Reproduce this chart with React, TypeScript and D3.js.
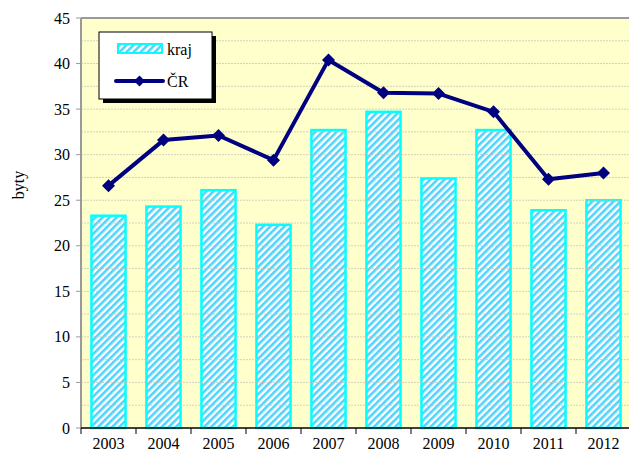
import React from "react";
import * as d3 from "d3";

const years = ["2003", "2004", "2005", "2006", "2007", "2008", "2009", "2010", "2011", "2012"];
const krajValues = [23.3, 24.3, 26.1, 22.3, 32.7, 34.7, 27.4, 32.7, 23.9, 25.0];
const crValues = [26.6, 31.6, 32.1, 29.4, 40.4, 36.8, 36.7, 34.7, 27.3, 28.0];
const yTicks = [0, 5, 10, 15, 20, 25, 30, 35, 40, 45];
const gridValues = d3.range(2.5, 45, 2.5);

const width = 629;
const height = 452;
const left = 81;
const top = 18;
const bottom = 428;
const right = 631;

export default function App() {
  const x = d3.scaleBand<string>().domain(years).range([left, right]).paddingInner(0.38).paddingOuter(0.19);
  const band = d3.scaleBand<string>().domain(years).range([left, right]);
  const y = d3.scaleLinear().domain([0, 45]).range([bottom, top]);

  const line = d3
    .line<number>()
    .x((_, i) => (x(years[i]) ?? 0) + x.bandwidth() / 2)
    .y((d) => y(d));

  const diamond = (cx: number, cy: number, r: number) =>
    `M${cx},${cy - r}L${cx + r},${cy}L${cx},${cy + r}L${cx - r},${cy}Z`;

  return (
    <svg
      width={width}
      height={height}
      style={{
        position: "absolute",
        left: 0,
        top: 0,
        background: "#fff",
        fontFamily: '"Liberation Serif", "DejaVu Serif", serif',
      }}
    >
      <defs>
        <pattern id="hatch" width="5" height="5" patternUnits="userSpaceOnUse" patternTransform="rotate(45)">
          <rect width="5" height="5" fill="#ffffff" />
          <rect width="2.6" height="5" fill="#33ccff" opacity="0.85" />
        </pattern>
      </defs>

      {/* plot background */}
      <rect x={left} y={top} width={right - left} height={bottom - top} fill="#ffffcc" />

      {/* bars */}
      {krajValues.map((v, i) => (
        <rect
          key={years[i]}
          x={x(years[i])}
          y={y(v)}
          width={x.bandwidth()}
          height={bottom - y(v)}
          fill="url(#hatch)"
          stroke="#00ffff"
          strokeWidth={2.5}
        />
      ))}

      {/* grid */}
      {gridValues.map((g) => (
        <line
          key={g}
          x1={left}
          x2={right}
          y1={y(g)}
          y2={y(g)}
          stroke="#c4c4b8"
          strokeWidth={1}
          strokeDasharray="2,1"
          opacity={0.75}
        />
      ))}

      {/* frame */}
      <line x1={left} x2={right} y1={top} y2={top} stroke="#9a9a9a" strokeWidth={2} />
      <line x1={left} x2={left} y1={top} y2={bottom} stroke="#9a9a9a" strokeWidth={2} />
      <line x1={left} x2={right} y1={bottom} y2={bottom} stroke="#000" strokeWidth={1.5} />

      {/* y axis */}
      {yTicks.map((t) => (
        <g key={t}>
          <line x1={left - 5} x2={left} y1={y(t)} y2={y(t)} stroke="#999" />
          <text x={70} y={y(t)} dy="0.35em" textAnchor="end" fontSize={16}>
            {t}
          </text>
        </g>
      ))}
      <text transform={`translate(24,${(top + bottom) / 2 - 38}) rotate(-90)`} textAnchor="middle" fontSize={16}>
        byty
      </text>

      {/* x axis */}
      {years.map((yr) => (
        <g key={yr}>
          <line x1={band(yr)} x2={band(yr)} y1={bottom} y2={bottom + 6} stroke="#000" />
          <text x={(x(yr) ?? 0) + x.bandwidth() / 2} y={449} textAnchor="middle" fontSize={16}>
            {yr}
          </text>
        </g>
      ))}

      {/* line series */}
      <path d={line(crValues) ?? ""} fill="none" stroke="#000080" strokeWidth={4} strokeLinejoin="round" />
      {crValues.map((v, i) => (
        <path key={years[i]} d={diamond((x(years[i]) ?? 0) + x.bandwidth() / 2, y(v), 6.5)} fill="#000080" />
      ))}

      {/* legend */}
      <rect x={103} y={36} width={113} height={67} fill="#000" />
      <rect x={99} y={32} width={113} height={67} fill="#fff" stroke="#000" strokeWidth={1} />
      <rect x={118} y={44} width={44} height={9} fill="url(#hatch)" stroke="#00ffff" strokeWidth={2} />
      <text x={167} y={55} fontSize={16}>
        kraj
      </text>
      <line x1={116} x2={163} y1={81} y2={81} stroke="#000080" strokeWidth={4} strokeLinecap="round" />
      <path d={diamond(139.5, 81, 5.5)} fill="#000080" />
      <text x={167} y={87} fontSize={16}>
        ČR
      </text>
    </svg>
  );
}
